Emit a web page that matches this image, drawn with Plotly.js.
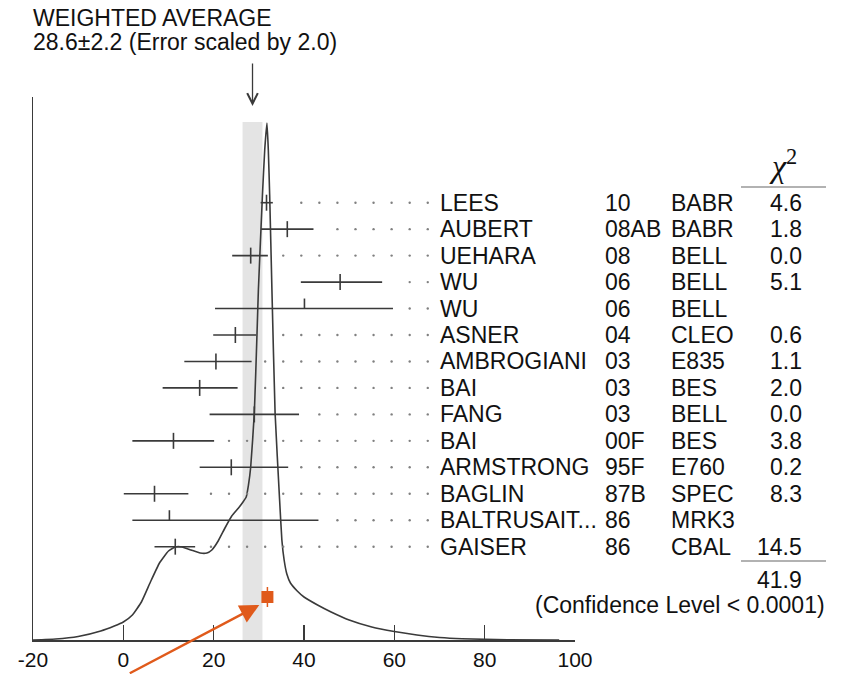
<!DOCTYPE html>
<html>
<head>
<meta charset="utf-8">
<script src="https://cdn.plot.ly/plotly-3.0.1.min.js"></script>
<style>html,body{margin:0;padding:0;background:#fff;}#chart{width:844px;height:674px;}</style>
</head>
<body>
<div id="chart"></div>
<script>
// ---- data ----
const names  = ["LEES","AUBERT","UEHARA","WU","WU","ASNER","AMBROGIANI","BAI","FANG","BAI","ARMSTRONG","BAGLIN","BALTRUSAIT...","GAISER"];
const years  = ["10","08AB","08","06","06","04","03","03","03","00F","95F","87B","86","86"];
const expts  = ["BABR","BABR","BELL","BELL","BELL","CLEO","E835","BES","BELL","BES","E760","SPEC","MRK3","CBAL"];
const chi2   = ["4.6","1.8","0.0","5.1","","0.6","1.1","2.0","0.0","3.8","0.2","8.3","","14.5"];
const values = [31.7, 36.3, 28.2, 48.0, 40.1, 24.8, 20.5, 16.9, 29.0, 11.1, 23.9, 6.9, 10.2, 11.5];
const errLo  = [1.3, 5.8, 4.1, 8.7, 19.8, 4.9, 7.0, 8.2, 9.9, 9.1, 7.0, 6.8, 8.2, 4.6];
const errHi  = [1.4, 5.8, 3.8, 9.3, 19.6, 4.6, 7.9, 8.4, 9.9, 9.0, 12.6, 7.5, 33.0, 4.4];
const usedInFit = [true,true,true,true,false,true,true,true,true,true,true,true,false,true];

const avgValue = 28.6, avgError = 2.2;
const chi2Total = "41.9";
const confText = "(Confidence Level < 0.0001)";

// ideogram curve
const curveX = [-20, -15, -10, -5, -2, 0, 2, 4, 6, 8, 10, 11.5, 13, 15, 17, 18.5, 19.6, 21, 22.5, 24, 25.5, 26.5, 27.2, 27.7, 28.2, 29.0, 29.6, 29.9, 30.8, 31.3, 31.8, 32.1, 32.4, 32.9, 33.6, 34.6, 35.1, 35.6, 36.2, 37, 38.5, 40, 43, 46, 50, 55, 60, 65, 70, 75, 85, 96.5];
const curveY = [0, 1, 3.5, 9, 14, 18, 25, 38, 58, 77, 89, 93, 93, 90, 87, 87, 90, 99, 112, 124, 132, 138, 143, 155, 173, 227, 307, 350, 445, 490, 517, 490, 445, 350, 227, 140, 100, 80, 66, 57, 49, 43, 35, 28, 20, 13, 8.5, 5, 2.5, 1.2, 0.3, 0];

const orangeValue = 31.9;
const xTicks = [-20, 0, 20, 40, 60, 80, 100];

// ---- layout helpers ----
const L = 33, R = 575, T = 97, B = 640;
const W = R - L, H = B - T;
const px = p => (p - L) / W;          // pixel x -> paper
const py = p => (B - p) / H;          // pixel y -> paper
const rowY = i => (B - 202.7) - 26.46 * i;   // y-axis units are pixels above the baseline
const FONT = "Liberation Sans, Arial, Helvetica, sans-serif";
const INK = "#3a3a3a";

const traces = [];

// ideogram
traces.push({x: curveX, y: curveY, mode: "lines", line: {color: INK, width: 1.6, shape: "spline", smoothing: 0.4}, hoverinfo: "skip"});

// error bars
const bx = [], by = [];
values.forEach((v, i) => { bx.push(v - errLo[i], v + errHi[i], null); by.push(rowY(i), rowY(i), null); });
traces.push({x: bx, y: by, mode: "lines", line: {color: INK, width: 1.6}, hoverinfo: "skip"});

// central ticks
const tx = [], ty = [];
values.forEach((v, i) => {
  tx.push(v, v, null);
  if (usedInFit[i]) ty.push(rowY(i) - 8, rowY(i) + 8, null);
  else ty.push(rowY(i), rowY(i) + 10, null);
});
traces.push({x: tx, y: ty, mode: "lines", line: {color: INK, width: 1.6}, hoverinfo: "skip"});

// dotted leaders
const dx = [], dy = [];
values.forEach((v, i) => {
  for (let g = 67.4; g > -20; g -= 4) {
    if (g > v + errHi[i] + 2.6) { dx.push(g); dy.push(rowY(i)); }
  }
});
traces.push({x: dx, y: dy, mode: "markers", marker: {color: "#808080", size: 2.4}, hoverinfo: "skip"});

// orange marker
traces.push({x: [orangeValue, orangeValue], y: [33, 53], mode: "lines", line: {color: "#E05A1B", width: 1.5}, hoverinfo: "skip"});
traces.push({x: [orangeValue], y: [43], mode: "markers", marker: {symbol: "square", color: "#E05A1B", size: 12}, hoverinfo: "skip"});

const ann = [];
const txt = (text, xpx, ypx, xanchor, size, extra) => Object.assign({
  text: text, xref: "paper", yref: "paper",
  x: px(xpx + (xanchor === "left" ? -2 : xanchor === "right" ? 2 : 0)), y: py(ypx),
  xanchor: xanchor, yanchor: "middle",
  showarrow: false, font: {family: FONT, size: size || 23, color: "#111"}
}, extra || {});

ann.push(txt("WEIGHTED AVERAGE", 33, 18, "left", 23));
ann.push(txt(avgValue.toFixed(1) + "±" + avgError.toFixed(1) + " (Error scaled by 2.0)", 33, 42, "left", 23));

names.forEach((n, i) => {
  const yp = B - rowY(i);
  ann.push(txt(n, 440, yp, "left"));
  ann.push(txt(years[i], 605, yp, "left"));
  ann.push(txt(expts[i], 671, yp, "left"));
  if (chi2[i]) ann.push(txt(chi2[i], 802, yp, "right"));
});
ann.push(txt("<i>χ</i><sup>2</sup>", 783, 164, "center", 32, {font: {family: "Liberation Serif, Times New Roman, serif", size: 32, color: "#111"}}));
ann.push(txt(chi2Total, 802, 580, "right"));
ann.push(txt(confText, 825, 605, "right"));

// arrow to the weighted average
ann.push({x: avgValue, y: B - 106, xref: "x", yref: "y", text: "", showarrow: true, ax: 0, ay: -44,
  arrowhead: 5, arrowsize: 1.6, arrowwidth: 1.3, arrowcolor: INK});
// orange pointer
ann.push({x: 30.1, y: 35, xref: "x", yref: "y", text: "", showarrow: true, ax: -131, ay: 70,
  arrowhead: 2, arrowsize: 1.6, arrowwidth: 2.4, arrowcolor: "#E05A1B"});

const shapes = [
  {type: "rect", xref: "x", yref: "y", x0: avgValue - avgError, x1: avgValue + avgError, y0: 0, y1: 518,
   fillcolor: "#e4e4e4", line: {width: 0}, layer: "below"},
  {type: "line", xref: "paper", yref: "paper", x0: px(741), x1: px(826), y0: py(187), y1: py(187), line: {color: "#999", width: 1.5}},
  {type: "line", xref: "paper", yref: "paper", x0: px(741), x1: px(826), y0: py(561), y1: py(561), line: {color: "#999", width: 1.5}}
];

const layout = {
  width: 844, height: 674,
  margin: {l: L, r: 844 - R, t: T, b: 674 - B, pad: 0},
  paper_bgcolor: "#fff", plot_bgcolor: "rgba(0,0,0,0)",
  showlegend: false,
  xaxis: {range: [-20, 100], tickvals: xTicks, ticktext: xTicks.map(String), ticks: "inside", ticklen: 15,
    tickwidth: 1.5, tickcolor: INK, showline: true, linecolor: INK, linewidth: 1.5, showgrid: false, zeroline: false,
    tickfont: {family: FONT, size: 21, color: "#111"}, fixedrange: true},
  yaxis: {range: [0, H], showline: true, linecolor: INK, linewidth: 1.5, showgrid: false, zeroline: false,
    showticklabels: false, ticks: "", fixedrange: true},
  shapes: shapes,
  annotations: ann
};

Plotly.newPlot("chart", traces, layout, {displayModeBar: false, staticPlot: true});
</script>
</body>
</html>
